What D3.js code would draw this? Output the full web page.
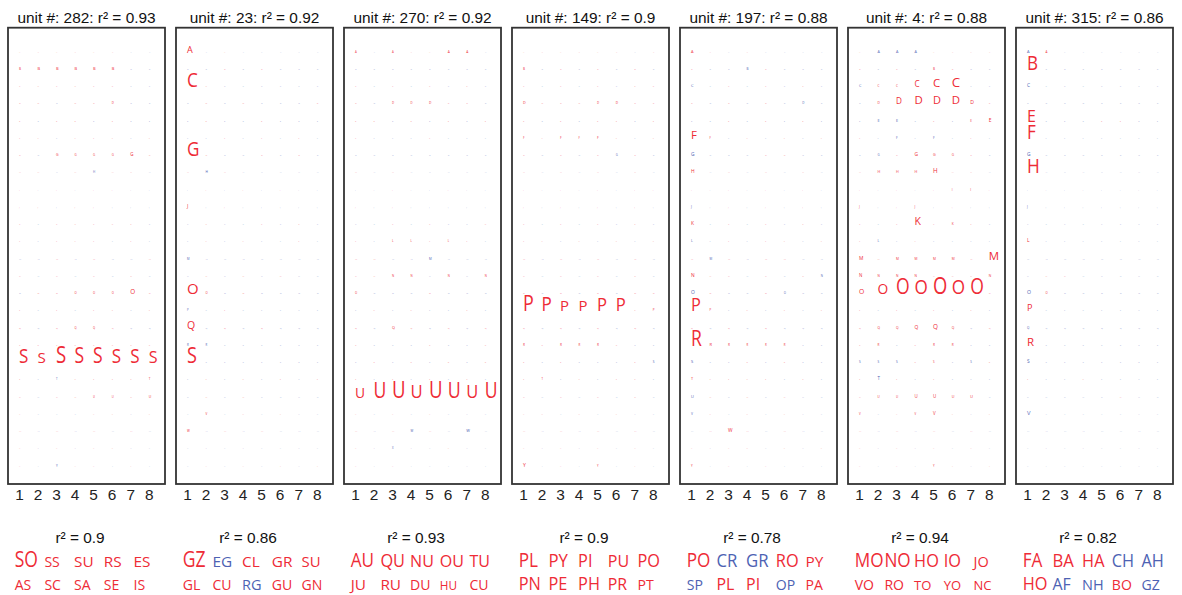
<!DOCTYPE html>
<html>
<head>
<meta charset="utf-8">
<script src="https://cdn.jsdelivr.net/npm/d3@7"></script>
<style>
  body { margin: 0; background: #fff; }
</style>
</head>
<body>
<script>
const units = [282, 23, 270, 149, 197, 4, 315];
const unitR2 = [0.93, 0.92, 0.92, 0.9, 0.88, 0.88, 0.86];
const wordR2 = [0.9, 0.86, 0.93, 0.9, 0.78, 0.94, 0.82];
const rows = "ABCDEFGHIJKLMNOPQRSTUVWXY".split("");
const positions = [1, 2, 3, 4, 5, 6, 7, 8];

// sign of the faint background cells, one string per row A..Y ("+" red, "-" blue)
const signs282 = ["++++++--","++++++--","++++++--","++-+++--","+-++-+--","++-+++-+","+-++++++","++-+-++-","+-+-++--","++-++---","+-+++++-","+-+++-+-","--+-+--+","+-+-+-+-","-+++++++","+-+-++-+","+-++++--","++++++++","++++++++","+--+++++","+-++++++","+---++-+","+-+-+-+-","+-+-++--","+--++-+-"];
const signs23  = ["+-+-----","--+-+---","++------","-+-+---+","-+--+---","--+-+-+-","++--+-+-","+-+-----","-+-+-+--","+-+-----","-+--+-+-","-+-+--+-","--------","-+-+-+--","++-+----","--+-----","+-+-+---","--------","+-------","-+-+-+-+","-+-+----","-+-+-+--","+-+-+---","--------","-+-+-+-+"];
const signs270 = ["+-+++++-","--------","+-+-+-+-","+-+++++-","++-+-+-+","+---+---","--------","+-+-----","--+--+--","+-+-----","--+-+--+","+-+++++-","++--+---","++++-+-+","+---+---","-+-+--+-","+-++-+-+","+---+--+","-+-+-+-+","+-+-+-+-","++++++++","+-+-+---","+-+-+---","+----+--","+-+-----"];
const signs149 = ["++++++-+","+-+-+-+-","+-+-+-++","++++++++","+-+-++-+","++++++-+","+-+-+-+-","+-+-+-+-","+-+-+-++","+-+-+-+-","+-+-+-+-","++-+-+-+","+-+-+-+-","+-+-+-+-","+-+-+-++","++++++++","+-+-+-+-","++++++--","+-+---+-","++-+-++-","+-+-+-+-","++-+-+--","+-+-+-+-","+-+-+-+-","+-+-+-+-"];
const signs197 = ["++-+----","+---+---","--+-+-+-","+-+-+---","--+-+-+-","++-+-+-+","----++--","+-+-+-+-","+-+-+-+-","--+-+-+-","+-+-+-+-","--+-++-+","+-+-++--","+++-+-+-","-+--+---","++-+-+-+","+-+-+---","++++++--","---+-+--","+++++-+-","-+-+-+--","-+-+-+--","-+++-+--","+-++-+-+","+-+-+---"];
const signs4   = ["+---++++","+-+-++--","-+++++--","-+++++++","----+-++","+-+-+-+-","--+++++-","+++++++-","+-+-++++","+-++-+--","+-+++++-","+--+----","++++++++","++++++++","++++++++","+-+-+-+-","++++++-+","++-+++--","---++--+","+-+-+---","+++++++-","+-++++-+","+-+-+-+-","+-+-+-+-","+-+-++-+"];
const signs315 = ["-+------","+-------","--------","--------","+---++--","+-------","--------","+-------","--------","--------","--------","+-------","--------","-++-----","-+------","+-------","--------","+-------","--------","+--+----","-----+--","--------","--------","--------","--------"];

// visible cells: [row letter, position, signed weight]
const cells282 = [["B",1,0.06],["B",2,0.1],["B",3,0.1],["B",4,0.1],["B",5,0.1],["B",6,0.1],["D",6,0.06],
  ["G",3,0.08],["G",4,0.06],["G",5,0.06],["G",6,0.06],["G",7,0.12],["H",5,-0.06],
  ["O",4,0.05],["O",5,0.05],["O",6,0.05],["O",7,0.2],["Q",4,0.04],["Q",5,0.04],
  ["S",1,0.77],["S",2,0.58],["S",3,0.96],["S",4,0.83],["S",5,0.83],["S",6,0.77],["S",7,0.77],["S",8,0.66],
  ["T",3,-0.04],["T",8,0.06],["U",5,0.04],["U",6,0.04],["U",8,0.08],["Y",3,-0.06]];
const cells23 = [["A",1,0.32],["C",1,0.78],["G",1,0.77],["H",2,-0.07],["J",1,0.15],["M",1,-0.05],
  ["O",1,0.57],["O",2,0.05],["P",1,-0.04],["Q",1,0.38],["R",1,-0.05],["R",2,-0.04],["S",1,0.89],
  ["V",2,0.06],["W",1,0.06]];
const cells270 = [["A",1,0.05],["A",3,0.05],["A",6,0.07],["A",7,0.07],["D",3,0.06],["D",4,0.05],["D",5,0.07],
  ["L",3,0.06],["L",4,0.05],["L",6,0.05],["M",5,-0.06],["N",3,0.05],["N",4,0.05],["N",6,0.05],["N",8,0.05],
  ["O",1,0.05],["Q",3,0.09],
  ["U",1,0.52],["U",2,0.83],["U",3,0.96],["U",4,0.72],["U",5,0.96],["U",6,0.86],["U",7,0.7],["U",8,0.83],
  ["W",4,-0.06],["W",7,-0.1],["X",3,-0.04]];
const cells149 = [["B",1,0.06],["D",1,0.09],["D",5,0.06],["D",6,0.07],["F",1,0.06],["F",3,0.07],["F",4,0.05],["F",5,0.08],
  ["G",6,-0.05],["P",1,0.87],["P",2,0.77],["P",3,0.57],["P",4,0.57],["P",5,0.72],["P",6,0.72],["P",8,0.06],
  ["R",1,0.06],["R",3,0.06],["R",4,0.05],["R",5,0.06],["S",8,-0.06],["T",2,0.04],["Y",1,0.15],["Y",5,0.05]];
const cells197 = [["A",1,0.1],["B",4,-0.06],["C",1,-0.1],["D",7,-0.06],["F",1,0.42],["F",2,0.05],["G",1,-0.14],
  ["H",1,0.14],["J",1,-0.07],["K",1,0.14],["L",1,-0.08],["M",2,-0.06],["N",1,0.14],["N",8,-0.05],
  ["O",1,-0.14],["O",6,-0.05],["P",1,0.69],["P",2,0.05],["R",1,0.83],["R",2,0.1],["R",3,0.06],["R",4,0.04],
  ["R",5,0.04],["R",6,0.05],["S",1,-0.1],["T",1,0.1],["U",1,-0.1],["V",1,-0.07],["W",3,0.14],["Y",1,0.06]];
const cells4 = [["A",2,-0.09],["A",3,-0.09],["A",4,-0.09],["B",5,0.06],
  ["C",1,-0.09],["C",2,0.06],["C",3,0.06],["C",4,0.28],["C",5,0.42],["C",6,0.5],
  ["D",2,0.07],["D",3,0.28],["D",4,0.42],["D",5,0.4],["D",6,0.42],["D",7,0.15],
  ["E",2,-0.1],["E",3,-0.1],["E",7,0.06],["E",8,0.14],["F",3,-0.07],["F",5,-0.07],
  ["G",2,-0.06],["G",4,0.14],["G",5,0.09],["G",6,0.07],["H",2,0.09],["H",3,0.09],["H",4,0.09],["H",5,0.2],
  ["I",6,0.06],["I",7,0.06],["J",1,0.06],["J",4,0.06],["K",4,0.38],["K",6,0.07],["L",2,-0.07],
  ["M",1,0.14],["M",3,0.07],["M",4,0.07],["M",5,0.07],["M",6,0.07],["M",8,0.42],
  ["N",1,0.12],["N",2,0.06],["N",3,0.07],["N",4,0.07],["N",8,0.07],
  ["O",1,0.22],["O",2,0.52],["O",3,0.83],["O",4,0.78],["O",5,0.93],["O",6,0.78],["O",7,0.83],
  ["Q",2,0.07],["Q",3,0.07],["Q",4,0.14],["Q",5,0.2],["Q",6,0.07],["R",2,0.06],["R",5,0.06],["R",6,0.06],
  ["S",1,-0.06],["S",2,-0.06],["S",3,-0.06],["S",5,0.05],["S",7,-0.05],["T",2,-0.12],
  ["U",2,0.06],["U",3,0.06],["U",4,0.12],["U",5,0.12],["U",6,0.09],["U",7,0.09],
  ["V",1,0.05],["V",4,0.05],["V",5,0.12],["Y",5,0.05]];
const cells315 = [["A",1,-0.1],["A",2,0.06],["B",1,0.77],["C",1,-0.14],["E",1,0.64],["F",1,0.77],["G",1,-0.14],
  ["H",1,0.8],["J",1,-0.06],["L",1,0.14],["O",1,-0.15],["O",2,0.05],["P",1,0.32],["Q",1,-0.06],
  ["R",1,0.42],["S",1,-0.14],["V",1,-0.18]];

// best matching words under each unit: [text, signed weight]
const words282 = [["SO",1],["SS",0.67],["SU",0.73],["RS",0.73],["ES",0.73],["AS",0.67],["SC",0.67],["SA",0.67],["SE",0.67],["IS",0.67]];
const words23  = [["GZ",1],["EG",-0.73],["CL",0.73],["GR",0.73],["SU",0.71],["GL",0.67],["CU",0.67],["RG",-0.69],["GU",0.67],["GN",0.67]];
const words270 = [["AU",0.95],["QU",0.84],["NU",0.8],["OU",0.8],["TU",0.8],["JU",0.73],["RU",0.73],["DU",0.67],["HU",0.56],["CU",0.67]];
const words149 = [["PL",0.95],["PY",0.89],["PI",0.84],["PU",0.8],["PO",0.84],["PN",0.84],["PE",0.84],["PH",0.84],["PR",0.78],["PT",0.67]];
const words197 = [["PO",0.95],["CR",-0.89],["GR",-0.89],["RO",0.84],["PY",0.73],["SP",-0.67],["PL",0.78],["PI",0.78],["OP",-0.67],["PA",0.67]];
const words4   = [["MO",0.95],["NO",0.95],["HO",0.84],["IO",0.84],["JO",0.69],["VO",0.67],["RO",0.67],["TO",0.62],["YO",0.62],["NC",0.62]];
const words315 = [["FA",0.95],["BA",0.89],["HA",0.84],["CH",-0.84],["AH",-0.84],["HO",0.84],["AF",-0.78],["NH",-0.69],["BO",0.67],["GZ",-0.67]];

const panels = [
  {signs: signs282, cells: cells282, words: words282},
  {signs: signs23, cells: cells23, words: words23},
  {signs: signs270, cells: cells270, words: words270},
  {signs: signs149, cells: cells149, words: words149},
  {signs: signs197, cells: cells197, words: words197},
  {signs: signs4, cells: cells4, words: words4},
  {signs: signs315, cells: cells315, words: words315}
].map((p, i) => ({...p, unit: units[i], r2: unitR2[i], wr2: wordR2[i]}));

const red = "#ee2b36", blue = "#4d62b3";
const panelW = 157, panelTop = 27.7, panelBottom = 484;

const svg = d3.select("body").append("svg")
  .attr("width", 1182)
  .attr("height", 595);

const x = d3.scaleLinear().domain([1, 8]).range([11, 140.7]);
const y = d3.scalePoint().domain(rows).range([52.7, 466.7]);
// tiny weights stay dot-like, big ones grow to full letters
const fontSize = d3.scaleLinear().domain([0, 0.05, 1]).range([2.4, 2.8, 25]);
const wordSize = d3.scaleLinear().domain([0, 1]).range([0, 21]);
// big glyphs are drawn taller than they are wide
const squeeze = f => Math.min(1, (0.36 * f + 10) / f);

panels.forEach((p, i) => {
  const g = svg.append("g").attr("transform", `translate(${8 + i * 168},0)`);

  g.append("text")
    .attr("x", panelW / 2)
    .attr("y", 22.5)
    .attr("text-anchor", "middle")
    .attr("font-family", "Liberation Sans, Arial, sans-serif")
    .attr("font-size", 15.4)
    .attr("fill", "#111")
    .text(`unit #: ${p.unit}: r² = ${p.r2}`);

  g.append("rect")
    .attr("x", 0)
    .attr("y", panelTop)
    .attr("width", panelW)
    .attr("height", panelBottom - panelTop)
    .attr("fill", "#fff")
    .attr("stroke", "#333")
    .attr("stroke-width", 1.8);

  const cells = [];
  rows.forEach((r, ri) => positions.forEach((c, ci) => {
    cells.push({row: r, pos: c, w: 0, sign: p.signs[ri][ci] === "+" ? 1 : -1});
  }));
  p.cells.forEach(([r, c, w]) => {
    const cell = cells[rows.indexOf(r) * 8 + c - 1];
    cell.w = Math.abs(w);
    cell.sign = Math.sign(w);
  });
  cells.sort((a, b) => a.w - b.w);

  g.append("g").selectAll("text")
    .data(cells)
    .join("text")
    .attr("transform", d => `translate(${x(d.pos)},${y(d.row)}) scale(${squeeze(fontSize(d.w))},1)`)
    .attr("font-family", "Open Sans, sans-serif")
    .attr("font-size", d => fontSize(d.w))
    .attr("fill", d => d.sign > 0 ? red : blue)
    .attr("fill-opacity", d => d.w === 0 ? 0.55 : 1)
    .text(d => d.row);

  const axis = g.append("g")
    .attr("transform", `translate(0,${panelBottom})`)
    .call(d3.axisBottom(x).tickValues(positions).tickFormat(d3.format("d")).tickSize(0).tickPadding(5));
  axis.select(".domain").remove();
  axis.selectAll("text")
    .attr("font-family", "Liberation Sans, Arial, sans-serif")
    .attr("font-size", 15.4)
    .attr("fill", "#222");

  g.append("text")
    .attr("x", 72)
    .attr("y", 543)
    .attr("text-anchor", "middle")
    .attr("font-family", "Liberation Sans, Arial, sans-serif")
    .attr("font-size", 15.4)
    .attr("fill", "#111")
    .text(`r² = ${p.wr2}`);

  g.append("g").selectAll("text")
    .data(p.words)
    .join("text")
    .attr("transform", (d, k) => {
      const f = wordSize(Math.abs(d[1]));
      return `translate(${6.7 + (k % 5) * 29.7},${k < 5 ? 566.7 : 590}) scale(${squeeze(f)},1)`;
    })
    .attr("font-family", "Open Sans, sans-serif")
    .attr("font-size", d => wordSize(Math.abs(d[1])))
    .attr("fill", d => d[1] > 0 ? red : blue)
    .text(d => d[0]);
});
</script>
</body>
</html>
